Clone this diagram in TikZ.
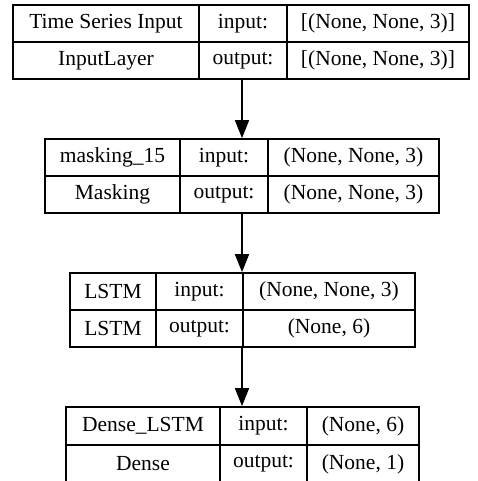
\documentclass[tikz,border=0pt]{standalone}
\usepackage{fontspec}
\setmainfont{Liberation Serif}
\newfontfamily\layerfont{Liberation Serif}
\usetikzlibrary{arrows.meta}
\tikzset{
  cell/.style={draw, line width=1.7pt, inner sep=0pt, minimum height=37pt, font=\layerfont\fontsize{21.5}{25}\selectfont, anchor=center},
  outer/.style={draw, line width=1.7pt, inner sep=0pt, minimum height=74pt},
  arr/.style={line width=1.7pt, -{Triangle[length=18pt,width=14pt]}}
}
\begin{document}
\begin{tikzpicture}[x=1pt,y=-1pt]
\useasboundingbox (0,0) rectangle (477,481);
% Layer 1
\node[outer, minimum width=456pt] (B1) at (241,42) {};
\node[cell, minimum width=186pt] (a1) at (106,23.5) {Time Series Input};
\node[cell, minimum width=88pt] (a2) at (243,23.5) {input:};
\node[cell, minimum width=182pt] (a3) at (378,23.5) {[(None, None, 3)]};
\node[cell, minimum width=186pt] (a4) at (106,60.5) {InputLayer};
\node[cell, minimum width=88pt] (a5) at (243,60.5) {output:};
\node[cell, minimum width=182pt] (a6) at (378,60.5) {[(None, None, 3)]};
% Layer 2
\node[outer, minimum width=394pt] (B2) at (242,176) {};
\node[cell, minimum width=135pt] (b1) at (112.5,157.5) {masking\_15};
\node[cell, minimum width=88pt] (b2) at (224,157.5) {input:};
\node[cell, minimum width=171pt] (b3) at (353.5,157.5) {(None, None, 3)};
\node[cell, minimum width=135pt] (b4) at (112.5,194.5) {Masking};
\node[cell, minimum width=88pt] (b5) at (224,194.5) {output:};
\node[cell, minimum width=171pt] (b6) at (353.5,194.5) {(None, None, 3)};
% Layer 3
\node[outer, minimum width=345pt] (B3) at (242,310) {};
\node[cell, minimum width=86pt] (c1) at (113,291.5) {LSTM};
\node[cell, minimum width=87pt] (c2) at (199.5,291.5) {input:};
\node[cell, minimum width=172pt] (c3) at (329,291.5) {(None, None, 3)};
\node[cell, minimum width=86pt] (c4) at (113,328.5) {LSTM};
\node[cell, minimum width=87pt] (c5) at (199.5,328.5) {output:};
\node[cell, minimum width=172pt] (c6) at (329,328.5) {(None, 6)};
% Layer 4
\node[outer, minimum width=353pt, minimum height=76pt] (B4) at (242,445) {};
\node[cell, minimum width=154pt, minimum height=38pt] (d1) at (143,426) {Dense\_LSTM};
\node[cell, minimum width=87pt, minimum height=38pt] (d2) at (263.5,426) {input:};
\node[cell, minimum width=112pt, minimum height=38pt] (d3) at (363,426) {(None, 6)};
\node[cell, minimum width=154pt, minimum height=38pt] (d4) at (143,464) {Dense};
\node[cell, minimum width=87pt, minimum height=38pt] (d5) at (263.5,464) {output:};
\node[cell, minimum width=112pt, minimum height=38pt] (d6) at (363,464) {(None, 1)};
% Arrows
\draw[arr] (B2.north |- B1.south) -- (B2.north);
\draw[arr] (B3.north |- B2.south) -- (B3.north);
\draw[arr] (B4.north |- B3.south) -- (B4.north);
\end{tikzpicture}
\end{document}
